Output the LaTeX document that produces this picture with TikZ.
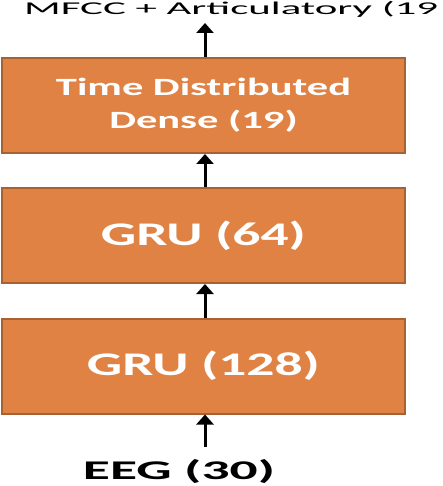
\documentclass[tikz,border=0pt]{standalone}
\usepackage{fontspec}
\setmainfont{Carlito}
\usepackage{graphicx}
\usetikzlibrary{arrows.meta}
\definecolor{boxfill}{HTML}{DF8244}
\definecolor{boxline}{HTML}{A86232}
\newcommand\wtext[3]{\resizebox{#1}{\height}{\fontsize{#2}{33}\selectfont #3}}
\begin{document}
\begin{tikzpicture}[x=1pt,y=-1pt,
  layer/.style={draw=boxline,line width=2pt,fill=boxfill,text=white,
    minimum width=403pt,minimum height=95pt,inner sep=0pt,anchor=center},
  flow/.style={line width=3pt,-{Triangle[width=17pt,length=10pt]}},
  lbl/.style={inner sep=0pt,text=black}]
\useasboundingbox (0,0) rectangle (442,486);
\node[layer] (dense) at (203.5,105.5) {\wtext{295pt}{24.8}{\bfseries\setlength\tabcolsep{0pt}\begin{tabular}{c}Time Distributed\\Dense (19)\end{tabular}}};
\node[layer] (gru64) at (203.5,235.5) {\wtext{205pt}{33}{\bfseries GRU (64)}};
\node[layer] (gru128) at (203.5,366) {\wtext{233pt}{33}{\bfseries GRU (128)}};
\node[lbl,anchor=base west] (out) at (24,15) {\wtext{414pt}{18}{MFCC + Articulatory (19}};
\node[lbl,anchor=base] (eeg) at (179,479) {\wtext{192pt}{27}{\bfseries EEG (30)}};
\coordinate (outtip) at (205,23);
\coordinate (eegtail) at (205,447);
\draw[flow] (dense.north -| outtip) -- (outtip);
\draw[flow] (gru64.north -| outtip) -- (dense.south -| outtip);
\draw[flow] (gru128.north -| outtip) -- (gru64.south -| outtip);
\draw[flow] (eegtail) -- (gru128.south -| outtip);
\end{tikzpicture}
\end{document}
